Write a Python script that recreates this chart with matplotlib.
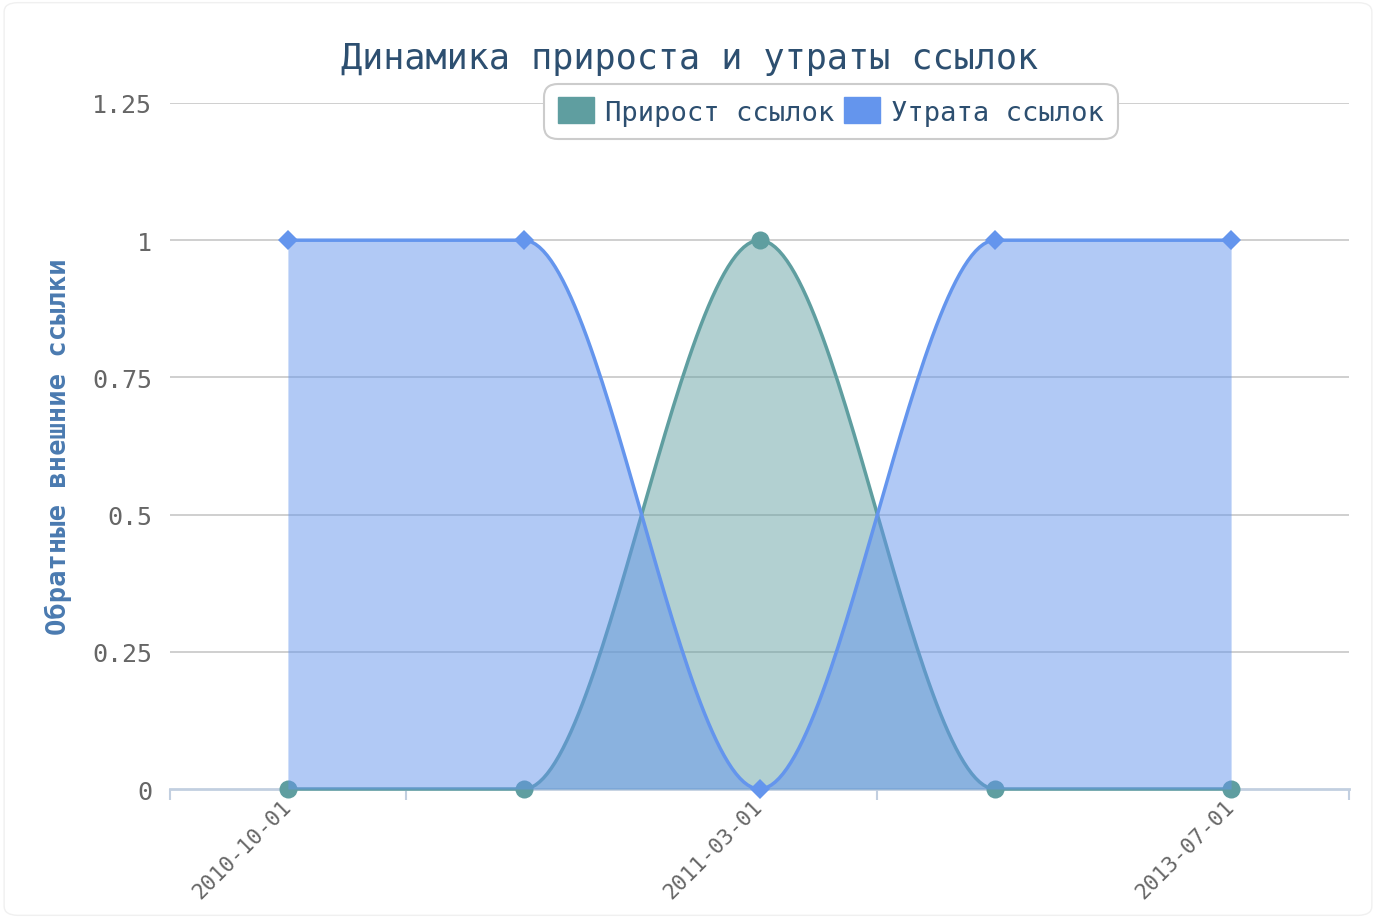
import numpy as np
import matplotlib
matplotlib.use("Agg")
import matplotlib.pyplot as plt
from matplotlib.patches import Patch, FancyBboxPatch

# ---- data ----
categories = ["2010-10-01", "2010-12-01", "2011-03-01", "2012-09-01", "2013-07-01"]
growth = [0, 0, 1, 0, 0]      # Прирост ссылок
loss = [1, 1, 0, 1, 1]        # Утрата ссылок
y_ticks = [0, 0.25, 0.5, 0.75, 1, 1.25]
y_tick_labels = ["0", "0.25", "0.5", "0.75", "1", "1.25"]
title = "Динамика прироста и утраты ссылок"
ylabel = "Обратные внешние ссылки"
series_names = ["Прирост ссылок", "Утрата ссылок"]

TEAL = "#5F9EA0"
BLUE = "#6495ED"
MONO = ["DejaVu Sans Mono", "DejaVu Sans"]


def monotone_curve(x, y, n=60):
    x = np.asarray(x, float)
    y = np.asarray(y, float)
    h = np.diff(x)
    d = np.diff(y) / h
    m = np.zeros_like(y)
    m[0] = d[0]
    m[-1] = d[-1]
    for k in range(1, len(y) - 1):
        if d[k - 1] * d[k] <= 0:
            m[k] = 0.0
        else:
            w1 = 2 * h[k] + h[k - 1]
            w2 = h[k] + 2 * h[k - 1]
            m[k] = (w1 + w2) / (w1 / d[k - 1] + w2 / d[k])
    xs, ys = [], []
    for k in range(len(x) - 1):
        t = np.linspace(0, 1, n, endpoint=(k == len(x) - 2))
        h00 = 2 * t**3 - 3 * t**2 + 1
        h10 = t**3 - 2 * t**2 + t
        h01 = -2 * t**3 + 3 * t**2
        h11 = t**3 - t**2
        xs.append(x[k] + t * h[k])
        ys.append(h00 * y[k] + h10 * h[k] * m[k] + h01 * y[k + 1] + h11 * h[k] * m[k + 1])
    return np.concatenate(xs), np.concatenate(ys)


fig = plt.figure(figsize=(13.76, 9.2), dpi=100)
fig.patches.append(FancyBboxPatch((0.003, 0.004), 0.994, 0.992,
                                  boxstyle="round,pad=0,rounding_size=0.01",
                                  transform=fig.transFigure, facecolor="white",
                                  edgecolor="#f0f0f0", linewidth=1.0, zorder=-10))

ax = fig.add_axes([170 / 1376, 1 - 790 / 920, 1179 / 1376, 686 / 920])
ax.set_facecolor("none")

xi = np.arange(len(categories))

# growth series (teal)
gx, gy = monotone_curve(xi, growth)
ax.fill_between(gx, 0, gy, color=TEAL, alpha=0.48, linewidth=0, zorder=2)
ax.plot(gx, gy, color=TEAL, lw=2.5, zorder=3, solid_capstyle="round", clip_on=False)
ax.plot(xi, growth, linestyle="none", marker="o", ms=13, color=TEAL,
        markeredgewidth=0, zorder=3, clip_on=False)

# loss series (blue)
lx, ly = monotone_curve(xi, loss)
ax.fill_between(lx, 0, ly, color=BLUE, alpha=0.5, linewidth=0, zorder=4)
ax.plot(lx, ly, color=BLUE, lw=2.5, zorder=5, solid_capstyle="round", clip_on=False)
ax.plot(xi, loss, linestyle="none", marker="D", ms=10, color=BLUE,
        markeredgewidth=0, zorder=5, clip_on=False)

ax.set_xlim(-0.5, len(categories) - 0.5)
ax.set_ylim(0, 1.25)

# y axis
ax.set_yticks(y_ticks)
ax.set_yticklabels(y_tick_labels, family=MONO, fontsize=18, color="#666666")
ax.tick_params(axis="y", length=0, pad=13)
for yv in y_ticks[1:]:
    ax.axhline(yv, color="#cccccc", lw=1.3, zorder=1)

# x axis
ax.set_xticks(xi[::2])
ax.set_xticklabels(categories[::2], family=MONO, fontsize=15.5, color="#666666",
                   rotation=45, ha="right", va="center", rotation_mode="anchor")
ax.tick_params(axis="x", which="major", length=0, pad=10)
ax.set_xticks([-0.5, 0.5, 2.5, 4.5], minor=True)
ax.tick_params(axis="x", which="minor", length=8, width=1.5, color="#c2cfe0")

for s in ["top", "right", "left"]:
    ax.spines[s].set_visible(False)
ax.spines["bottom"].set_color("#c2cfe0")
ax.spines["bottom"].set_linewidth(2)
ax.spines["bottom"].set_zorder(1)

ax.set_ylabel(ylabel, family=MONO, fontsize=19.5, fontweight="bold", color="#4a7ab0")
ax.yaxis.set_label_coords(-0.083, 0.5)

fig.text(690 / 1376, 1 - 59 / 920, title, family=MONO, fontsize=25.3,
         color="#2d4f70", ha="center", va="center")

handles = [Patch(facecolor=TEAL, edgecolor=TEAL), Patch(facecolor=BLUE, edgecolor=BLUE)]
leg = fig.legend(handles, series_names, loc="center",
                 bbox_to_anchor=(831 / 1376, 1 - 112.5 / 920), ncol=2,
                 prop={"family": MONO, "size": 19.5}, labelcolor="#2d4f70",
                 handlelength=1.35, handleheight=1.1, handletextpad=0.4,
                 columnspacing=0.35, borderpad=0.5, fancybox=True,
                 framealpha=1, edgecolor="#cccccc")
leg.get_frame().set_linewidth(1.5)
leg.get_frame().set_boxstyle("round,pad=0,rounding_size=0.5")

fig.savefig("out.png", dpi=100, facecolor="white")
